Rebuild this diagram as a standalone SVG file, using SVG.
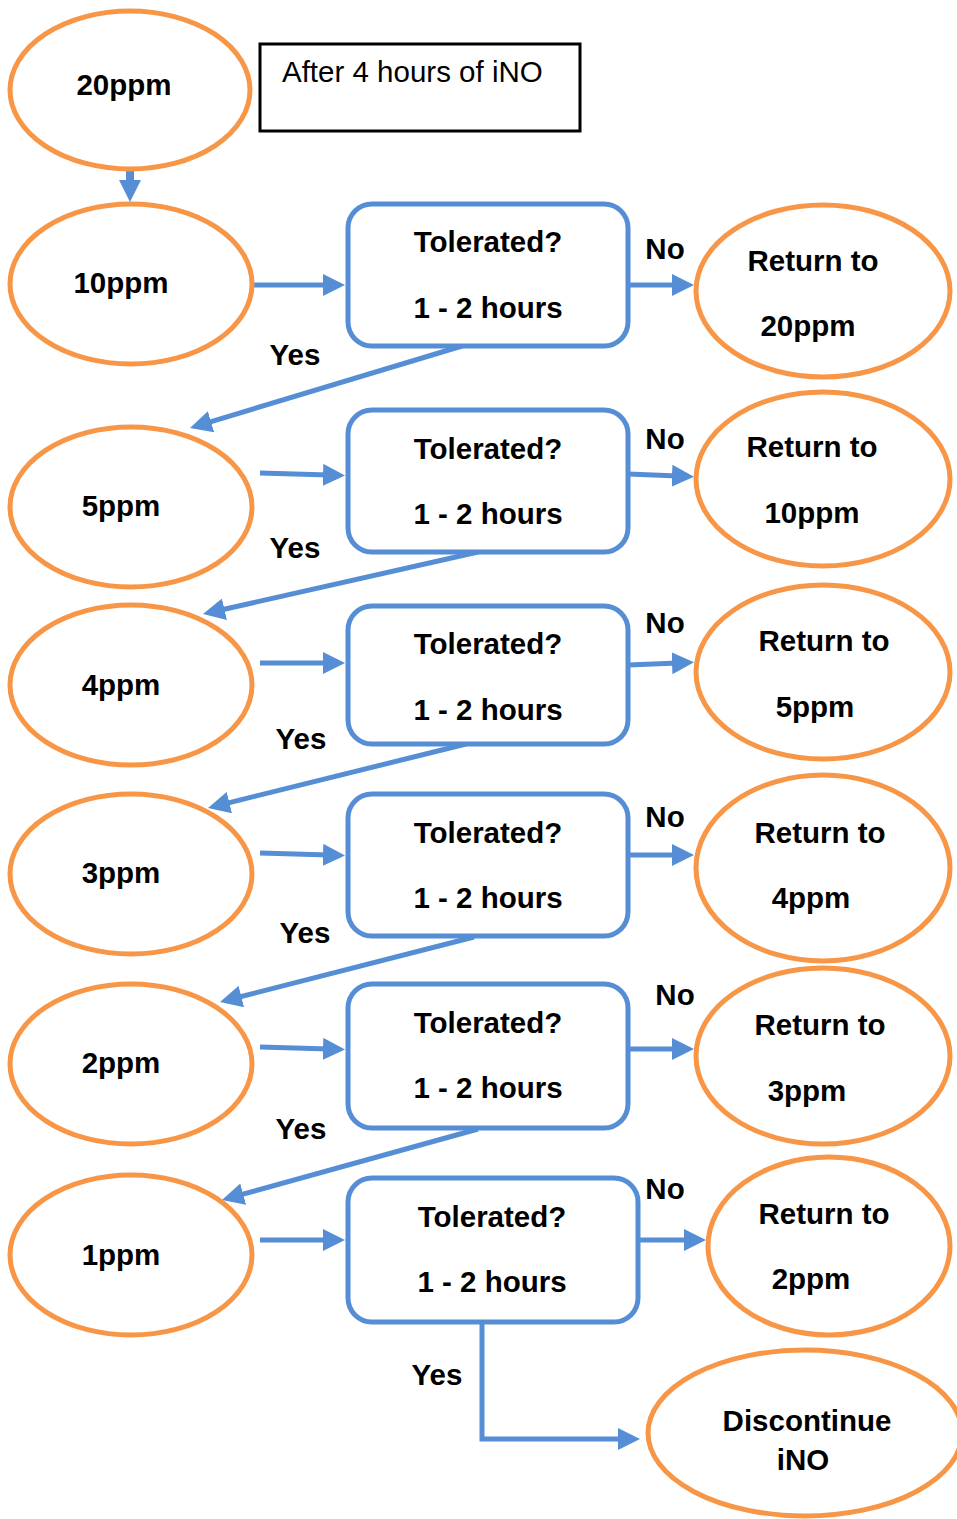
<svg xmlns="http://www.w3.org/2000/svg" width="957" height="1519" viewBox="0 0 957 1519">
<style>
.el{fill:#fff;stroke:#F79646;stroke-width:5}
.bx{fill:#fff;stroke:#558ED5;stroke-width:5}
.c{fill:none;stroke:#558ED5;stroke-width:5}
text{font-family:"Liberation Sans",Arial,sans-serif;font-size:29.5px;font-weight:bold;fill:#000;text-anchor:middle}
.n{font-weight:normal;text-anchor:start}
</style>
<defs>
<marker id="ah" markerUnits="userSpaceOnUse" markerWidth="22" markerHeight="22" refX="6" refY="11" orient="auto">
<path d="M0,0 L22,11 L0,22 z" fill="#558ED5"/>
</marker>
</defs>
<rect width="957" height="1519" fill="#fff"/>
<g id="connectors">
<line x1="130" y1="170" x2="130" y2="186" class="c" style="stroke-width:8" marker-end="url(#ah)"/>
<line x1="252" y1="285" x2="329" y2="285" class="c" marker-end="url(#ah)"/>
<line x1="628" y1="285" x2="678" y2="285" class="c" marker-end="url(#ah)"/>
<line x1="462" y1="346" x2="205.3" y2="423.4" class="c" marker-end="url(#ah)"/>
<line x1="260" y1="473" x2="329" y2="475" class="c" marker-end="url(#ah)"/>
<line x1="628" y1="474" x2="678" y2="476" class="c" marker-end="url(#ah)"/>
<line x1="478" y1="552" x2="218.6" y2="610.5" class="c" marker-end="url(#ah)"/>
<line x1="260" y1="663" x2="329" y2="663" class="c" marker-end="url(#ah)"/>
<line x1="628" y1="665" x2="678" y2="663" class="c" marker-end="url(#ah)"/>
<line x1="466" y1="744" x2="223.5" y2="804.1" class="c" marker-end="url(#ah)"/>
<line x1="260" y1="853" x2="329" y2="855" class="c" marker-end="url(#ah)"/>
<line x1="628" y1="855" x2="678" y2="855" class="c" marker-end="url(#ah)"/>
<line x1="474" y1="937" x2="235.5" y2="998" class="c" marker-end="url(#ah)"/>
<line x1="260" y1="1047" x2="329" y2="1049" class="c" marker-end="url(#ah)"/>
<line x1="628" y1="1049" x2="678" y2="1049" class="c" marker-end="url(#ah)"/>
<line x1="478" y1="1129" x2="237.4" y2="1195.7" class="c" marker-end="url(#ah)"/>
<line x1="260" y1="1240" x2="329" y2="1240" class="c" marker-end="url(#ah)"/>
<line x1="638" y1="1240" x2="690" y2="1240" class="c" marker-end="url(#ah)"/>
<polyline points="482,1322 482,1439 624,1439" class="c" marker-end="url(#ah)"/>
<text x="665" y="259">No</text>
<text x="665" y="449">No</text>
<text x="665" y="633">No</text>
<text x="665" y="827">No</text>
<text x="675" y="1005">No</text>
<text x="665" y="1199">No</text>
<text x="295" y="365">Yes</text>
<text x="295" y="558">Yes</text>
<text x="301" y="749">Yes</text>
<text x="305" y="943">Yes</text>
<text x="301" y="1139">Yes</text>
<text x="437" y="1385">Yes</text>
</g>
<g id="n20"><ellipse cx="130" cy="90" rx="120" ry="79" class="el"/><text x="124" y="95">20ppm</text></g>
<g id="note"><rect x="260" y="44" width="320" height="87" fill="#fff" stroke="#000" stroke-width="3"/><text x="282" y="82" class="n">After 4 hours of iNO</text></g>
<g id="n10"><ellipse cx="131" cy="284" rx="121" ry="80" class="el"/><text x="121" y="293">10ppm</text></g>
<g id="t1"><rect x="348" y="204" width="280" height="142" rx="24" class="bx"/><text x="488" y="252">Tolerated?</text><text x="488" y="318">1 - 2 hours</text></g>
<g id="r20"><ellipse cx="823" cy="291" rx="127" ry="86" class="el"/><text x="813" y="271">Return to</text><text x="808" y="336">20ppm</text></g>
<g id="n5"><ellipse cx="131" cy="507" rx="121" ry="80" class="el"/><text x="121" y="516">5ppm</text></g>
<g id="t2"><rect x="348" y="410" width="280" height="142" rx="24" class="bx"/><text x="488" y="459">Tolerated?</text><text x="488" y="524">1 - 2 hours</text></g>
<g id="r10"><ellipse cx="823" cy="479" rx="127" ry="87" class="el"/><text x="812" y="457">Return to</text><text x="812" y="523">10ppm</text></g>
<g id="n4"><ellipse cx="131" cy="685" rx="121" ry="80" class="el"/><text x="121" y="695">4ppm</text></g>
<g id="t3"><rect x="348" y="606" width="280" height="138" rx="24" class="bx"/><text x="488" y="654">Tolerated?</text><text x="488" y="720">1 - 2 hours</text></g>
<g id="r5"><ellipse cx="823" cy="672" rx="127" ry="87" class="el"/><text x="824" y="651">Return to</text><text x="815" y="717">5ppm</text></g>
<g id="n3"><ellipse cx="131" cy="874" rx="121" ry="80" class="el"/><text x="121" y="883">3ppm</text></g>
<g id="t4"><rect x="348" y="794" width="280" height="142" rx="24" class="bx"/><text x="488" y="843">Tolerated?</text><text x="488" y="908">1 - 2 hours</text></g>
<g id="r4"><ellipse cx="823" cy="868" rx="127" ry="93" class="el"/><text x="820" y="843">Return to</text><text x="811" y="908">4ppm</text></g>
<g id="n2"><ellipse cx="131" cy="1064" rx="121" ry="80" class="el"/><text x="121" y="1073">2ppm</text></g>
<g id="t5"><rect x="348" y="984" width="280" height="144" rx="24" class="bx"/><text x="488" y="1033">Tolerated?</text><text x="488" y="1098">1 - 2 hours</text></g>
<g id="r3"><ellipse cx="823" cy="1056" rx="127" ry="88" class="el"/><text x="820" y="1035">Return to</text><text x="807" y="1101">3ppm</text></g>
<g id="n1"><ellipse cx="131" cy="1255" rx="121" ry="80" class="el"/><text x="121" y="1265">1ppm</text></g>
<g id="t6"><rect x="348" y="1178" width="290" height="144" rx="24" class="bx"/><text x="492" y="1227">Tolerated?</text><text x="492" y="1292">1 - 2 hours</text></g>
<g id="r2"><ellipse cx="829" cy="1246" rx="121" ry="89" class="el"/><text x="824" y="1224">Return to</text><text x="811" y="1289">2ppm</text></g>
<g id="disc"><ellipse cx="805" cy="1433" rx="157" ry="83" class="el"/><text x="807" y="1431">Discontinue</text><text x="803" y="1470">iNO</text></g>
</svg>
